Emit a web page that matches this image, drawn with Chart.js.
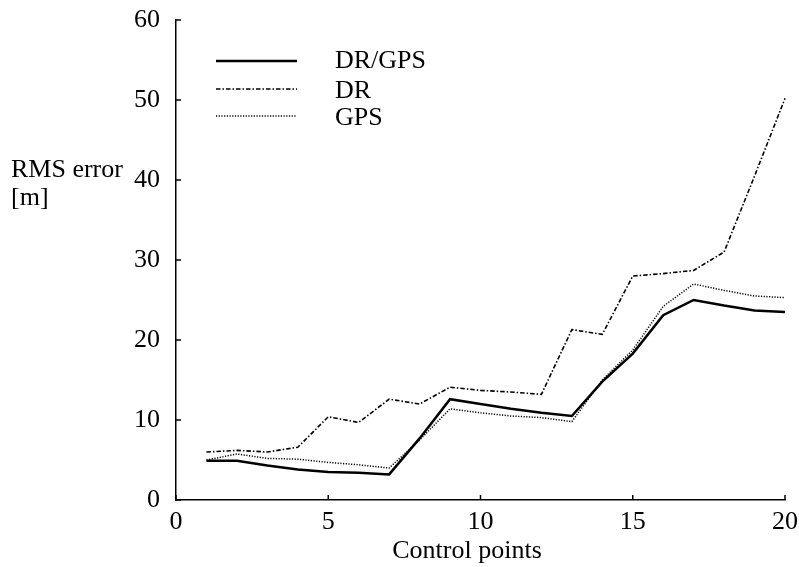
<!DOCTYPE html>
<html><head><meta charset="utf-8">
<script src="https://cdn.jsdelivr.net/npm/chart.js@4/dist/chart.umd.min.js"></script>
<style>html,body{margin:0;padding:0;background:#fff}#wrap{width:799px;height:567px;position:relative}</style>
</head><body><div id="wrap"><canvas id="c" width="799" height="567"></canvas></div>
<script>
const controlPoints = [1,2,3,4,5,6,7,8,9,10,11,12,13,14,15,16,17,18,19,20];
const drGps = [4.9,4.9,4.3,3.8,3.5,3.4,3.2,7.7,12.6,12.0,11.4,10.9,10.5,14.8,18.3,23.1,25.0,24.3,23.7,23.5];
const dr = [6.0,6.2,6.0,6.6,10.4,9.7,12.6,12.0,14.1,13.7,13.5,13.2,21.3,20.7,28.0,28.3,28.7,31.0,40.5,50.2];
const gps = [5.0,5.75,5.2,5.1,4.7,4.4,4.0,7.5,11.4,10.9,10.5,10.3,9.8,15.0,18.75,24.2,27.0,26.2,25.5,25.3];
const xTicks = [0,5,10,15,20];
const yTicks = [0,10,20,30,40,50,60];
const seriesNames = ['DR/GPS','DR','GPS'];
const yTitle = ['RMS error','[m]'];
const xTitle = 'Control points';

const FONT = '"Liberation Serif", "DejaVu Serif", serif';
const styles = [
  {borderWidth:2.5, borderDash:[]},
  {borderWidth:1.6, borderDash:[4.5,2,1.5,2]},
  {borderWidth:1.5, borderDash:[1.2,1.5]}
];
const seriesData = [drGps, dr, gps];

const extras = {
  id:'extras',
  afterDraw(chart){
    const ctx = chart.ctx, xs = chart.scales.x, ys = chart.scales.y;
    ctx.save();
    ctx.strokeStyle = '#000'; ctx.lineWidth = 1.5; ctx.setLineDash([]);
    xTicks.forEach(v=>{const px=xs.getPixelForValue(v);ctx.beginPath();ctx.moveTo(px,ys.bottom);ctx.lineTo(px,ys.bottom-5);ctx.stroke();});
    yTicks.forEach(v=>{const py=ys.getPixelForValue(v);ctx.beginPath();ctx.moveTo(xs.left,py);ctx.lineTo(xs.left+5,py);ctx.stroke();});
    ctx.font = '26px ' + FONT; ctx.fillStyle = '#000'; ctx.textBaseline = 'middle'; ctx.textAlign='left';
    const ly = [61,89,116];
    const ty = [61,91,118];
    seriesNames.forEach((n,i)=>{
      ctx.lineWidth = styles[i].borderWidth; ctx.setLineDash(styles[i].borderDash);
      ctx.beginPath(); ctx.moveTo(216, ly[i]); ctx.lineTo(297, ly[i]); ctx.stroke();
      ctx.setLineDash([]);
      ctx.fillText(n, 335, ty[i]);
    });
    ctx.textBaseline = 'alphabetic';
    ctx.fillText(yTitle[0], 11, 177);
    ctx.fillText(yTitle[1], 11, 205);
    ctx.textAlign='center';
    ctx.fillText(xTitle, 467, 558);
    ctx.restore();
  }
};

new Chart(document.getElementById('c'), {
  type:'line',
  data:{
    datasets: seriesNames.map((n,i)=>({
      label:n,
      data: controlPoints.map((x,j)=>({x:x,y:seriesData[i][j]})),
      borderColor:'#000', backgroundColor:'#000',
      borderWidth:styles[i].borderWidth, borderDash:styles[i].borderDash,
      pointRadius:0, tension:0, fill:false, clip:false
    }))
  },
  options:{
    responsive:false, animation:false, devicePixelRatio:1,
    layout:{padding:{left:0,right:14,top:20,bottom:0}},
    plugins:{legend:{display:false}, tooltip:{enabled:false}},
    scales:{
      x:{type:'linear', min:0, max:20,
        afterFit(s){s.height=67; s.paddingLeft=0; s.paddingRight=0;},
        afterBuildTicks(s){s.ticks = xTicks.map(v=>({value:v}));},
        grid:{display:true, drawOnChartArea:false, drawTicks:false},
        border:{display:true,color:'#000',width:1.5},
        ticks:{color:'#000', padding:7, font:{family:FONT,size:26}, maxRotation:0, autoSkip:false}
      },
      y:{type:'linear', min:0, max:60,
        afterFit(s){s.width=176; s.paddingTop=0; s.paddingBottom=0;},
        afterBuildTicks(s){s.ticks = yTicks.map(v=>({value:v}));},
        grid:{display:true, drawOnChartArea:false, drawTicks:false},
        border:{display:true,color:'#000',width:1.5},
        ticks:{color:'#000', padding:16, font:{family:FONT,size:26}, autoSkip:false}
      }
    }
  },
  plugins:[extras]
});
</script></body></html>
